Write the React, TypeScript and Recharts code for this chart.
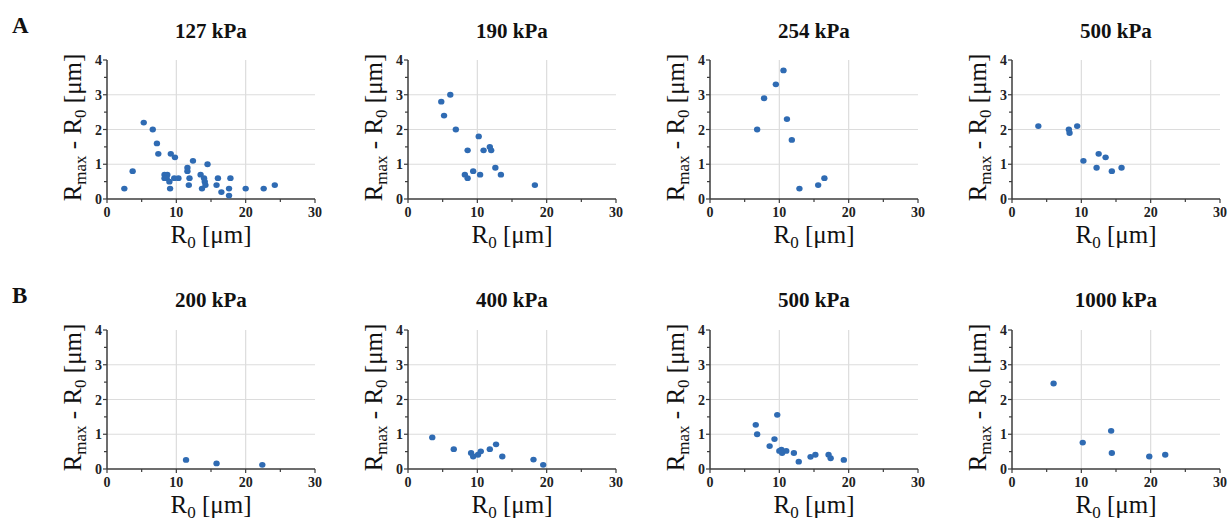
import React from 'react';
import {CartesianGrid, Scatter, ScatterChart, XAxis, YAxis} from 'recharts';

// R0 [um] vs Rmax - R0 [um], one list per panel
const kpa127 = [
	[2.5, 0.3], [3.7, 0.8], [5.3, 2.2], [6.6, 2.0], [7.2, 1.6], [7.4, 1.3], [8.3, 0.7], [8.7, 0.7],
	[8.3, 0.6], [8.6, 0.6], [9.2, 1.3], [9.8, 1.2], [9.0, 0.5], [9.1, 0.3], [9.7, 0.6], [10.3, 0.6],
	[11.6, 0.9], [11.6, 0.8], [11.9, 0.6], [11.8, 0.4], [12.4, 1.1], [13.5, 0.7], [14.0, 0.6], [14.1, 0.5],
	[13.7, 0.3], [14.2, 0.4], [14.5, 1.0], [15.8, 0.4], [16.0, 0.6], [16.5, 0.2], [17.6, 0.3], [17.8, 0.6],
	[17.6, 0.1], [20.0, 0.3], [22.6, 0.3], [24.2, 0.4],
];
const kpa190 = [
	[4.8, 2.8], [6.1, 3.0], [5.2, 2.4], [6.9, 2.0], [10.2, 1.8], [8.6, 1.4], [10.9, 1.4], [11.8, 1.5],
	[12.0, 1.4], [12.6, 0.9], [13.4, 0.7], [8.2, 0.7], [8.6, 0.6], [9.4, 0.8], [10.4, 0.7], [18.3, 0.4],
];
const kpa254 = [
	[6.8, 2.0], [7.8, 2.9], [9.5, 3.3], [10.6, 3.7], [11.1, 2.3], [11.8, 1.7], [12.9, 0.3], [15.6, 0.4], [16.5, 0.6],
];
const kpa500a = [
	[3.8, 2.1], [8.2, 2.0], [8.3, 1.9], [9.4, 2.1], [10.3, 1.1], [12.5, 1.3], [13.5, 1.2], [12.2, 0.9],
	[14.4, 0.8], [15.8, 0.9],
];
const kpa200 = [[11.4, 0.26], [15.8, 0.16], [22.4, 0.12]];
const kpa400 = [
	[3.5, 0.91], [6.6, 0.57], [9.1, 0.46], [9.4, 0.36], [10.1, 0.41], [10.5, 0.51], [11.8, 0.57],
	[12.7, 0.71], [13.6, 0.36], [18.1, 0.27], [19.5, 0.12],
];
const kpa500b = [
	[6.6, 1.27], [6.8, 1.0], [9.7, 1.56], [9.3, 0.86], [8.6, 0.66], [10.0, 0.52], [10.3, 0.56], [10.4, 0.46],
	[11.0, 0.52], [12.1, 0.46], [12.8, 0.21], [14.5, 0.35], [15.2, 0.41], [17.1, 0.41], [17.4, 0.31], [19.3, 0.26],
];
const kpa1000 = [[6.0, 2.46], [10.2, 0.76], [14.3, 1.1], [14.4, 0.46], [19.8, 0.36], [22.1, 0.41]];

const titlesA = ['127 kPa', '190 kPa', '254 kPa', '500 kPa'];
const titlesB = ['200 kPa', '400 kPa', '500 kPa', '1000 kPa'];
const seriesA = [kpa127, kpa190, kpa254, kpa500a];
const seriesB = [kpa200, kpa400, kpa500b, kpa1000];

const xTicks = [0, 5, 10, 15, 20, 25, 30];
const yTicks = [0, 0.5, 1, 1.5, 2, 2.5, 3, 3.5, 4];

const SERIF = '"Liberation Serif", "Times New Roman", serif';
const DOT = '#2f6bb3';
const AXIS = '#3c3c3c';

const PANEL_X = [107, 408, 710, 1012];
const ROW_Y = [60, 330];
const PLOT_W = 208;
const PLOT_H = 139;
const LEFT = 107;
const RIGHT = 14;
const TOP = 60;

const XTick = (props: any) => {
	const {x, y, payload} = props;
	const v = payload.value;
	const major = v % 10 === 0;
	return (
		<g>
			<line x1={x} y1={y} x2={x} y2={y + (major ? 4 : 3)} stroke={AXIS} strokeWidth={1.2}/>
			{major && (
				<text x={x} y={y + 18} textAnchor="middle" fontFamily={SERIF} fontWeight="bold" fontSize={14} fill="#222">
					{v}
				</text>
			)}
		</g>
	);
};

const YTick = (props: any) => {
	const {x, y, payload} = props;
	const v = payload.value;
	const major = Number.isInteger(v);
	return (
		<g>
			<line x1={x} y1={y} x2={x - (major ? 4 : 3)} y2={y} stroke={AXIS} strokeWidth={1.2}/>
			{major && (
				<text x={x - 5} y={y + 5} textAnchor="end" fontFamily={SERIF} fontWeight="bold" fontSize={14} fill="#222">
					{v}
				</text>
			)}
		</g>
	);
};

const XLabel = (props: any) => {
	const {x, y, width} = props.viewBox;
	return (
		<text x={x + width / 2} y={y + 44} textAnchor="middle" fontFamily={SERIF} fontSize={25} fill="#111"
			  style={{whiteSpace: 'pre'}}>
			<tspan>R</tspan>
			<tspan fontSize={17} dy={5}>0</tspan>
			<tspan dy={-5}> [μm]</tspan>
		</text>
	);
};

const YLabel = (props: any) => {
	const {x, y, width, height} = props.viewBox;
	const cx = x + width - 26;
	const cy = y + height / 2 - 2;
	return (
		<text transform={`translate(${cx},${cy}) rotate(-90)`} textAnchor="middle" fontFamily={SERIF} fontSize={25}
			  fill="#111" style={{whiteSpace: 'pre'}}>
			<tspan>R</tspan>
			<tspan fontSize={17} dy={5}>max</tspan>
			<tspan dy={-5}> - R</tspan>
			<tspan fontSize={17} dy={5}>0</tspan>
			<tspan dy={-5}> [μm]</tspan>
		</text>
	);
};

const Dot = (props: any) => <ellipse cx={props.cx} cy={props.cy} rx={3.2} ry={2.9} fill={DOT}/>;

const Panel = ({points, left, top}: { points: number[][]; left: number; top: number }) => {
	const data = points.map(([x, y]) => ({x, y}));
	return (
		<div style={{position: 'absolute', left: left - LEFT, top: top - TOP}}>
			<ScatterChart width={LEFT + PLOT_W + RIGHT} height={255} margin={{top: TOP, right: RIGHT, left: 0, bottom: 0}}>
				<CartesianGrid stroke="#dcdcdc" strokeWidth={1.2} horizontalValues={[1, 2, 3]} verticalValues={[10, 20]}/>
				<XAxis type="number" dataKey="x" domain={[0, 30]} ticks={xTicks} height={255 - TOP - PLOT_H}
					   axisLine={{stroke: AXIS, strokeWidth: 1.5}} tickLine={false} tickSize={0} tickMargin={0}
					   tick={<XTick/>} interval={0} label={<XLabel/>}/>
				<YAxis type="number" dataKey="y" domain={[0, 4]} ticks={yTicks} width={LEFT}
					   axisLine={{stroke: AXIS, strokeWidth: 1.5}} tickLine={false} tickSize={0} tickMargin={0}
					   tick={<YTick/>} interval={0} label={<YLabel/>}/>
				<Scatter data={data} shape={<Dot/>} isAnimationActive={false}/>
			</ScatterChart>
		</div>
	);
};

const App = () => {
	return (
		<div style={{position: 'absolute', left: 0, top: 0, width: 1232, height: 521, background: '#fff'}}>
			{seriesA.map((s, i) => <Panel key={'a' + i} points={s} left={PANEL_X[i]} top={ROW_Y[0]}/>)}
			{seriesB.map((s, i) => <Panel key={'b' + i} points={s} left={PANEL_X[i]} top={ROW_Y[1]}/>)}
			<svg width={1232} height={521} style={{position: 'absolute', left: 0, top: 0, pointerEvents: 'none'}}>
				<text x={12} y={33} fontFamily={SERIF} fontWeight="bold" fontSize={23} fill="#111">A</text>
				<text x={12} y={303} fontFamily={SERIF} fontWeight="bold" fontSize={23} fill="#111">B</text>
				{titlesA.map((t, i) => (
					<text key={t + i} x={PANEL_X[i] + PLOT_W / 2} y={38} textAnchor="middle" fontFamily={SERIF}
						  fontWeight="bold" fontSize={21} fill="#111">{t}</text>
				))}
				{titlesB.map((t, i) => (
					<text key={t + i} x={PANEL_X[i] + PLOT_W / 2} y={307} textAnchor="middle" fontFamily={SERIF}
						  fontWeight="bold" fontSize={21} fill="#111">{t}</text>
				))}
			</svg>
		</div>
	);
};

export default App;
